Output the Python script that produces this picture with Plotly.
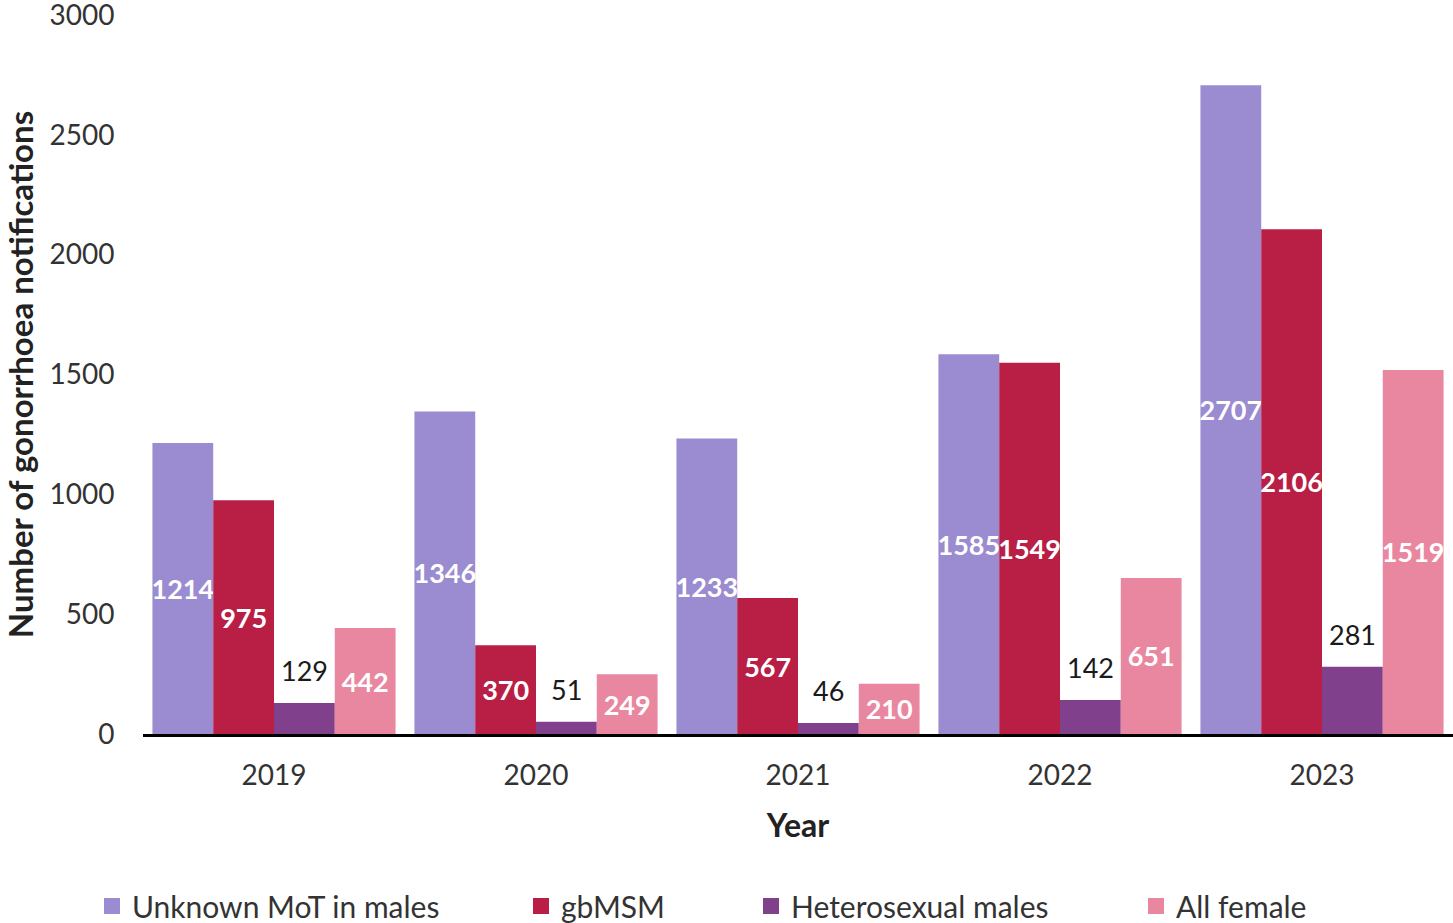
import plotly.graph_objects as go

years = ["2019", "2020", "2021", "2022", "2023"]
unknown_mot = [1214, 1346, 1233, 1585, 2707]
gbmsm = [975, 370, 567, 1549, 2106]
hetero_males = [129, 51, 46, 142, 281]
all_female = [442, 249, 210, 651, 1519]

series = [
    ("Unknown MoT in males", unknown_mot, "#9B8BD0", "inside"),
    ("gbMSM", gbmsm, "#B91F45", "inside"),
    ("Heterosexual males", hetero_males, "#80408C", "outside"),
    ("All female", all_female, "#E987A0", "inside"),
]

FONT = "Lato, 'Open Sans', sans-serif"
W, H = 1453, 923
# target plot area in screen pixels
SX0, SX1, SY0, SY1 = 143, 1453, 15, 734
L = SX0
R = W - SX1
T = SY0
B = H - SY1
PW = W - L - R
PH = H - T - B
BARGAP = 0.072

def px_x(p):
    return (p - SX0) / PW

def px_y(p):
    return (SY1 - p) / PH

fig = go.Figure()
legend_names = ["legend", "legend2", "legend3", "legend4"]
nser = len(series)
bw = (1 - BARGAP) / nser
for i, (name, vals, col, pos) in enumerate(series):
    if pos == "inside":
        fig.add_trace(go.Bar(
            x=years, y=vals, name=name, marker=dict(color=col, line=dict(width=0)),
            text=[str(v) for v in vals], textposition="inside", insidetextanchor="middle",
            textangle=0, constraintext="none",
            textfont=dict(family=FONT, size=27, color="white", weight="bold"),
            cliponaxis=False, showlegend=False,
        ))
    else:
        fig.add_trace(go.Bar(
            x=years, y=vals, name=name, marker=dict(color=col, line=dict(width=0)),
            showlegend=False,
        ))
        offset = -0.5 * (1 - BARGAP) + (i + 0.5) * bw
        for k, v in enumerate(vals):
            fig.add_annotation(
                x=k + offset, y=v, xref="x", yref="y", text=str(v), showarrow=False,
                yanchor="bottom", yshift=14,
                font=dict(family=FONT, size=27, color="#1a1a1a"),
            )
    fig.add_trace(go.Scatter(
        x=[None], y=[None], mode="markers", name=name,
        marker=dict(symbol="square", size=20, color=col),
        showlegend=True, legend=legend_names[i],
    ))

fig.update_layout(
    width=W, height=H,
    margin=dict(l=L, r=R, t=T, b=B, autoexpand=False),
    paper_bgcolor="white", plot_bgcolor="white",
    barmode="group", bargap=BARGAP, bargroupgap=0,
    font=dict(family=FONT, size=28, color="#333333"),
    xaxis=dict(
        showgrid=False, showline=True, linecolor="black", linewidth=2.5,
        ticks="outside", ticklen=0, tickfont=dict(size=28, color="#333333"),
        ticklabelstandoff=15,
        title=dict(text="Year", font=dict(size=32, weight="bold", color="#222222"), standoff=25),
    ),
    yaxis=dict(
        range=[0, 3000], dtick=500, showgrid=False, showline=False, zeroline=False,
        ticks="outside", ticklen=0, tickfont=dict(size=28, color="#333333"),
        ticklabelstandoff=22, ticklabeloverflow="allow",
        title=dict(text="Number of gonorrhoea notifications",
                   font=dict(size=33, weight="bold", color="#222222"), standoff=11),
    ),
)

text_starts = [134, 563, 793, 1178]
for ln, ts in zip(legend_names, text_starts):
    fig.update_layout({ln: dict(
        x=px_x(ts - 42), y=px_y(906), xanchor="left", yanchor="middle",
        orientation="h", font=dict(family=FONT, size=30, color="#333333"),
        bgcolor="rgba(0,0,0,0)", itemwidth=30, tracegroupgap=0,
    )})

fig.write_html(
    "out.html",
    config={"displayModeBar": False},
    post_script="document.body.style.margin='0';document.body.style.overflow='hidden';",
)
